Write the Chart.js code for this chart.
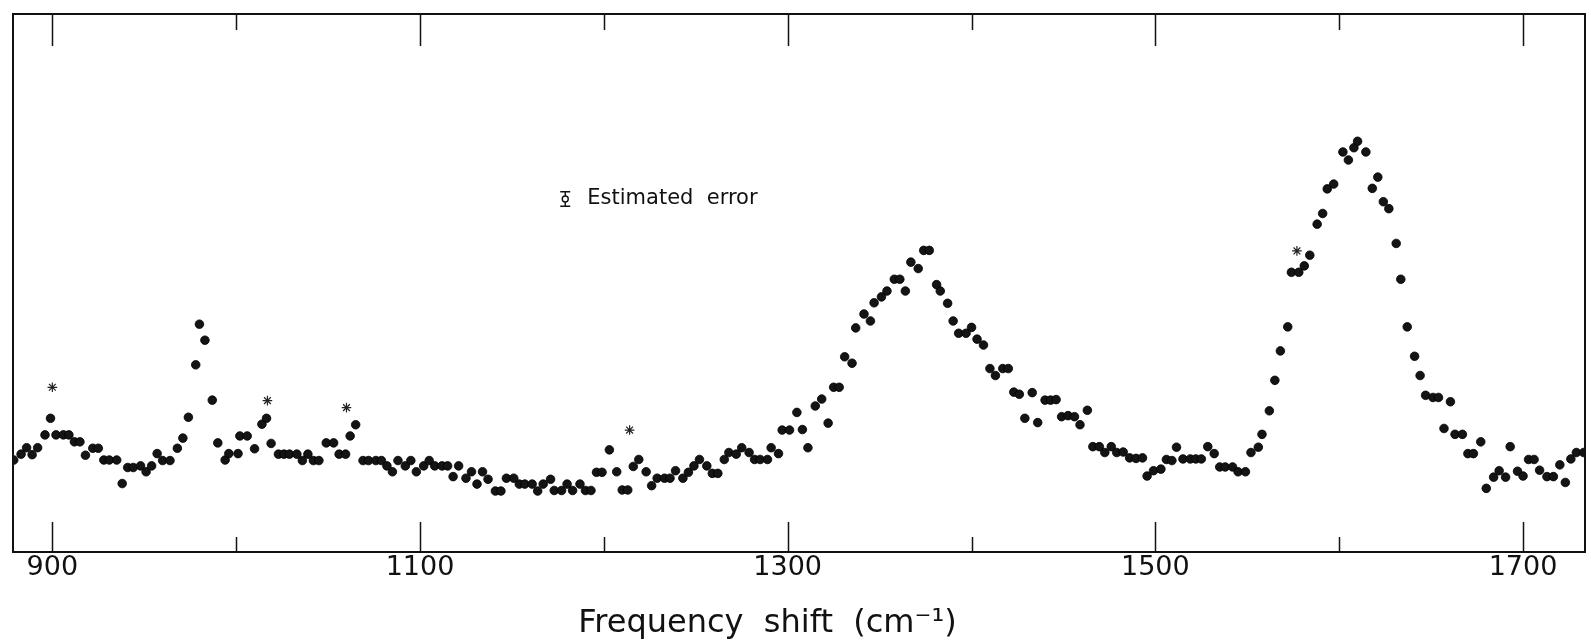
<!DOCTYPE html>
<html>
<head>
<meta charset="utf-8">
<title>Frequency shift spectrum</title>
<script src="https://cdn.jsdelivr.net/npm/chart.js@4.4.1/dist/chart.umd.min.js"></script>
<style>
  html, body { margin: 0; padding: 0; background: #fff; }
  #wrap { width: 1591px; height: 643px; }
</style>
</head>
<body>
<div id="wrap"><canvas id="spectrum" width="1591" height="643"></canvas></div>
<script>
const shift = [
  879, 883, 886, 889, 892, 896, 899, 902, 906, 909,
  912, 915, 918, 922, 925, 928, 931, 935, 938, 941,
  944, 948, 951, 954, 957, 960, 964, 968, 971, 974,
  978, 980, 983, 987, 990, 994, 996, 1001, 1002, 1006,
  1010, 1014, 1016.5, 1019, 1023, 1026, 1029, 1033, 1036, 1039,
  1042, 1045, 1049, 1053, 1056, 1059.5, 1062, 1065, 1069, 1072,
  1076, 1079, 1082, 1085, 1088, 1092, 1095, 1098, 1102, 1105,
  1108, 1112, 1115, 1118, 1121, 1125, 1128, 1131, 1134, 1137,
  1141, 1144, 1147, 1151, 1154, 1157, 1161, 1164, 1167, 1171,
  1173, 1177, 1180, 1183, 1187, 1190, 1193, 1196, 1199, 1203,
  1207, 1210, 1213, 1216, 1219, 1223, 1226, 1229, 1233, 1236,
  1239, 1243, 1246, 1249, 1252, 1256, 1259, 1262, 1265.5, 1268,
  1272, 1275, 1279, 1282, 1285, 1289, 1291, 1295, 1297, 1301,
  1305, 1308, 1311, 1315, 1318.5, 1322, 1325, 1328, 1331, 1335,
  1337, 1341.5, 1345, 1347, 1351, 1354, 1358, 1361, 1364, 1367,
  1371, 1374, 1377, 1381, 1383, 1387, 1390, 1393, 1397, 1400,
  1403, 1406.5, 1410, 1413, 1417, 1420, 1423, 1426, 1429, 1433,
  1436, 1440, 1443, 1446, 1449, 1452.5, 1456, 1459, 1463, 1466,
  1469.5, 1472.5, 1476, 1479, 1482.5, 1486, 1489.5, 1493, 1495.5, 1499,
  1503, 1506, 1509, 1511.5, 1515, 1519, 1522, 1525, 1528.5, 1532,
  1535, 1538, 1542, 1545, 1549, 1552, 1556, 1558, 1562, 1565,
  1568, 1572, 1574, 1578, 1581, 1584, 1588, 1591, 1593.5, 1597,
  1602, 1605, 1608, 1610, 1614.5, 1618, 1621, 1624, 1627, 1631,
  1633.5, 1637, 1641, 1644, 1647, 1651, 1654, 1657, 1660.5, 1663,
  1667, 1670, 1673, 1677, 1680, 1684, 1687, 1690.5, 1693, 1697,
  1700, 1703, 1706, 1709, 1713, 1716.5, 1720, 1723, 1726, 1729, 1733
];

// intensity, arbitrary units (0 = bottom of frame)
const intensity = [
  17.2, 18.3, 19.5, 18.2, 19.5, 21.9, 25.0, 21.9, 21.9, 21.9,
  20.6, 20.6, 18.1, 19.4, 19.4, 17.2, 17.2, 17.2, 12.8, 15.8,
  15.8, 16.1, 15.0, 16.1, 18.4, 17.1, 17.1, 19.4, 21.3, 25.2,
  35.0, 42.6, 39.6, 28.4, 20.4, 17.2, 18.4, 18.4, 21.7, 21.7,
  19.3, 23.9, 25.0, 20.3, 18.3, 18.3, 18.3, 18.3, 17.1, 18.3,
  17.1, 17.1, 20.4, 20.4, 18.3, 18.3, 21.7, 23.8, 17.1, 17.1,
  17.1, 17.1, 16.1, 15.0, 17.1, 16.1, 17.1, 15.0, 16.1, 17.1,
  16.1, 16.1, 16.1, 14.1, 16.1, 13.8, 15.0, 12.7, 15.0, 13.6,
  11.4, 11.4, 13.8, 13.8, 12.7, 12.7, 12.7, 11.4, 12.7, 13.6,
  11.5, 11.5, 12.7, 11.5, 12.7, 11.5, 11.5, 14.9, 14.9, 19.1,
  15.0, 11.6, 11.6, 16.0, 17.3, 15.0, 12.4, 13.8, 13.8, 13.8,
  15.2, 13.8, 14.9, 16.1, 17.3, 16.1, 14.7, 14.7, 17.3, 18.6,
  18.3, 19.5, 18.6, 17.3, 17.3, 17.3, 19.5, 18.4, 22.8, 22.8,
  26.1, 22.9, 19.5, 27.3, 28.6, 24.1, 30.8, 30.8, 36.5, 35.3,
  41.9, 44.5, 43.2, 46.6, 47.7, 48.8, 51.0, 51.0, 48.8, 54.2,
  53.0, 56.4, 56.4, 50.0, 48.8, 46.5, 43.2, 40.9, 40.9, 42.0,
  39.8, 38.7, 34.3, 33.0, 34.3, 34.3, 29.9, 29.5, 25.0, 29.8,
  24.2, 28.4, 28.4, 28.5, 25.3, 25.5, 25.3, 23.8, 26.5, 19.7,
  19.7, 18.6, 19.7, 18.6, 18.7, 17.6, 17.5, 17.6, 14.2, 15.2,
  15.5, 17.3, 17.1, 19.6, 17.4, 17.4, 17.4, 17.4, 19.7, 18.4,
  15.9, 15.9, 15.9, 15.0, 15.0, 18.6, 19.6, 22.0, 26.4, 32.1,
  37.6, 42.1, 52.3, 52.3, 53.5, 55.5, 61.3, 63.3, 67.9, 68.8,
  74.8, 73.3, 75.6, 76.8, 74.8, 68.0, 70.1, 65.5, 64.2, 57.7,
  51.0, 42.1, 36.6, 33.0, 29.3, 28.9, 28.9, 23.1, 28.1, 22.0,
  22.0, 18.4, 18.4, 20.6, 11.9, 14.0, 15.2, 14.0, 19.7, 15.1,
  14.2, 17.3, 17.3, 15.3, 14.1, 14.1, 16.3, 13.0, 17.4, 18.6, 18.6
];

// asterisks marking individual points
const starShift = [900, 1017, 1060, 1214, 1577];
const starIntensity = [30.8, 28.3, 27.0, 22.8, 56.3];

// axis ticks: marks every 100, numbers on every other one
const tickValues = [900, 1000, 1100, 1200, 1300, 1400, 1500, 1600, 1700];
const labeledTicks = [900, 1100, 1300, 1500, 1700];

// "estimated error" key and axis title anchors (data units)
const errorBar = { x: 1179, y: 66.0, half: 1.35 };
const errorLabel = { x: 1191, y: 66.0 };
const titleCenter = 1289;

const FONT = "'DejaVu Sans', 'Liberation Sans', sans-serif";

// frame, inward tick marks, error key and axis title
const paperFrame = {
  id: "paperFrame",
  afterDatasetsDraw(chart) {
    const { ctx, chartArea: a, scales: { x, y } } = chart;
    ctx.save();
    ctx.strokeStyle = "#111";
    ctx.lineWidth = 2;
    ctx.strokeRect(a.left, a.top, a.right - a.left, a.bottom - a.top);

    ctx.lineWidth = 1.5;
    tickValues.forEach(v => {
      const px = Math.round(x.getPixelForValue(v)) + 0.5;
      const major = labeledTicks.includes(v);
      ctx.beginPath();
      ctx.moveTo(px, a.bottom);
      ctx.lineTo(px, a.bottom - (major ? 30 : 15));
      ctx.moveTo(px, a.top);
      ctx.lineTo(px, a.top + (major ? 32 : 16));
      ctx.stroke();
    });

    // little error bar symbol
    const ex = x.getPixelForValue(errorBar.x);
    const eTop = y.getPixelForValue(errorBar.y + errorBar.half);
    const eBot = y.getPixelForValue(errorBar.y - errorBar.half);
    const eMid = y.getPixelForValue(errorBar.y);
    ctx.lineWidth = 1.4;
    ctx.beginPath();
    ctx.moveTo(ex - 5, eTop); ctx.lineTo(ex + 5, eTop);
    ctx.moveTo(ex - 5, eBot); ctx.lineTo(ex + 5, eBot);
    ctx.moveTo(ex, eTop); ctx.lineTo(ex, eMid - 3);
    ctx.moveTo(ex, eMid + 3); ctx.lineTo(ex, eBot);
    ctx.stroke();
    ctx.beginPath();
    ctx.arc(ex, eMid, 3, 0, Math.PI * 2);
    ctx.stroke();

    ctx.fillStyle = "#111";
    ctx.font = "21px " + FONT;
    ctx.textAlign = "left";
    ctx.textBaseline = "middle";
    ctx.fillText("Estimated  error", x.getPixelForValue(errorLabel.x), y.getPixelForValue(errorLabel.y));

    ctx.font = "32px " + FONT;
    ctx.textAlign = "center";
    ctx.textBaseline = "alphabetic";
    ctx.fillText("Frequency  shift  (cm\u207B\u00B9)", x.getPixelForValue(titleCenter), chart.height - 11);
    ctx.restore();
  }
};

const ctx = document.getElementById("spectrum").getContext("2d");

new Chart(ctx, {
  type: "scatter",
  data: {
    datasets: [
      {
        label: "Spectrum",
        data: shift.map((s, i) => ({ x: s, y: intensity[i] })),
        pointRadius: 4.3,
        pointHoverRadius: 4.3,
        backgroundColor: "#141414",
        borderColor: "#000",
        borderWidth: 0.8,
      },
      {
        label: "Marked",
        data: starShift.map((s, i) => ({ x: s, y: starIntensity[i] })),
        pointStyle: "star",
        pointRadius: 4.8,
        pointHoverRadius: 4.8,
        backgroundColor: "transparent",
        borderColor: "#222",
        borderWidth: 1.2,
      }
    ]
  },
  options: {
    responsive: false,
    animation: false,
    devicePixelRatio: 1,
    layout: { padding: { left: 13, right: 2, top: 14, bottom: 0 } },
    plugins: {
      legend: { display: false },
      tooltip: { enabled: false }
    },
    scales: {
      x: {
        type: "linear",
        min: 878.6,
        max: 1733.7,
        afterFit(scale) { scale.height = 91; },
        grid: { display: false, drawTicks: false },
        border: { display: false },
        ticks: {
          stepSize: 100,
          includeBounds: false,
          autoSkip: false,
          maxRotation: 0,
          padding: 0,
          color: "#111",
          font: { family: FONT, size: 27 },
          callback: v => labeledTicks.includes(v) ? String(v) : ""
        }
      },
      y: {
        type: "linear",
        min: 0,
        max: 100.6,
        display: false
      }
    }
  },
  plugins: [paperFrame]
});
</script>
</body>
</html>
